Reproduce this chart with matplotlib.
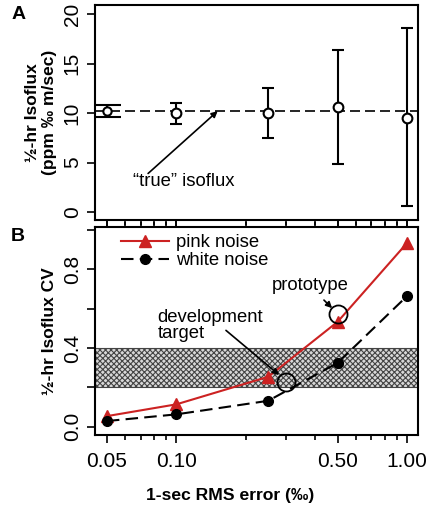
import matplotlib.pyplot as plt
from matplotlib.ticker import FixedLocator, NullFormatter, FuncFormatter

plt.rcParams['font.family'] = ['Liberation Sans', 'DejaVu Sans']
plt.rcParams['hatch.linewidth'] = 0.8

# data
rms_err = [0.05, 0.10, 0.25, 0.50, 1.00]
iso_mean = [10.2, 10.0, 10.0, 10.6, 9.55]
iso_lo = [9.6, 8.9, 7.5, 4.9, 0.65]
iso_hi = [10.8, 11.05, 12.55, 16.4, 18.55]
true_iso = 10.2

pink_cv = [0.054, 0.114, 0.254, 0.534, 0.935]
white_cv = [0.029, 0.063, 0.132, 0.325, 0.665]
target_band = (0.2, 0.4)
prototype = (0.5, 0.573)
dev_target = (0.3, 0.226)

fig = plt.figure(figsize=(4.28, 5.07), dpi=100)
axA = fig.add_axes([0.222, 0.566, 0.755, 0.424])
axB = fig.add_axes([0.222, 0.142, 0.755, 0.410])

xmin, xmax = 0.0444, 1.116
minor = [0.06, 0.07, 0.08, 0.09, 0.2, 0.3, 0.4, 0.6, 0.7, 0.8, 0.9]
arrow = dict(arrowstyle='-|>', color='black', lw=1.2, shrinkA=0, shrinkB=0,
             mutation_scale=9)

# ---- panel A
axA.axhline(true_iso, color='black', ls=(0, (6, 3)), lw=1.2, zorder=1)
err_lo = [m - l for m, l in zip(iso_mean, iso_lo)]
err_hi = [h - m for m, h in zip(iso_mean, iso_hi)]
axA.errorbar(rms_err[:1], iso_mean[:1], yerr=[err_lo[:1], err_hi[:1]], fmt='o',
             mfc='white', mec='black', mew=1.5, ms=6, ecolor='black', elinewidth=1.5,
             capsize=10, capthick=1.5, zorder=3)
axA.errorbar(rms_err[1:], iso_mean[1:], yerr=[err_lo[1:], err_hi[1:]], fmt='o',
             mfc='white', mec='black', mew=1.5, ms=7, ecolor='black', elinewidth=1.5,
             capsize=4, capthick=1.5, zorder=3)
axA.text(0.0649, 3.1, '\u201ctrue\u201d isoflux', fontsize=13.3, ha='left', va='center')
axA.annotate('', xy=(0.151, 10.2), xytext=(0.0754, 3.9), arrowprops=arrow)
axA.set_xscale('log')
axA.set_xlim(xmin, xmax)
axA.set_ylim(-0.8, 20.9)
axA.set_yticks([0, 5, 10, 15, 20])
axA.set_ylabel('\u00bd-hr Isoflux\n(ppm \u2030 m/sec)', fontsize=12.5, fontweight='bold',
               labelpad=4)
axA.text(-0.238, 0.955, 'A', transform=axA.transAxes, fontsize=14, fontweight='bold',
         va='center', ha='center')

# ---- panel B
axB.axhspan(target_band[0], target_band[1], facecolor='#d8d8d8', edgecolor='#444444',
            hatch='xxxxxx', lw=0.8, zorder=0)
axB.plot(rms_err, pink_cv, color='#cc2222', marker='^', ms=8, lw=1.5,
         label='pink noise', zorder=3)
axB.plot(rms_err, white_cv, color='black', marker='o', ms=7, lw=1.5,
         ls=(0, (6, 3)), label='white noise', zorder=3)
axB.plot(*prototype, 'o', ms=13, mfc='none', mec='black', mew=1.3, zorder=4)
axB.plot(*dev_target, 'o', ms=13, mfc='none', mec='black', mew=1.3, zorder=4)
axB.text(0.382, 0.72, 'prototype', fontsize=13.3, ha='center', va='center')
axB.annotate('', xy=(0.473, 0.603), xytext=(0.436, 0.644), arrowprops=arrow)
axB.text(0.083, 0.515, 'development\ntarget', fontsize=13.3, ha='left', va='center',
         linespacing=0.95)
axB.annotate('', xy=(0.279, 0.263), xytext=(0.164, 0.49), arrowprops=arrow)
axB.legend(loc='upper left', fontsize=13.3, frameon=False, handlelength=2.6,
           borderaxespad=0.2, labelspacing=0.05, handletextpad=0.4,
           bbox_to_anchor=(0.045, 1.02))
axB.set_xscale('log')
axB.set_xlim(xmin, xmax)
axB.set_ylim(-0.042, 1.015)
axB.set_yticks([0.0, 0.2, 0.4, 0.6, 0.8, 1.0])
axB.yaxis.set_major_formatter(FuncFormatter(lambda v, p: f'{v:.1f}' if round(v * 10) % 4 == 0 else ''))
axB.set_ylabel('\u00bd-hr Isoflux CV', fontsize=12.5, fontweight='bold', labelpad=4)
axB.set_xlabel('1-sec RMS error (\u2030)', fontsize=12.6, fontweight='bold', labelpad=12)
axB.xaxis.set_label_coords(0.418, -0.255)
axB.text(-0.238, 0.955, 'B', transform=axB.transAxes, fontsize=14, fontweight='bold',
         va='center', ha='center')

for ax in (axA, axB):
    ax.xaxis.set_major_locator(FixedLocator(rms_err[:2] + rms_err[3:]))
    ax.xaxis.set_minor_locator(FixedLocator(minor))
    ax.xaxis.set_minor_formatter(NullFormatter())
    ax.tick_params(axis='both', which='major', direction='out', length=6, width=1.2,
                   labelsize=15)
    ax.tick_params(axis='x', which='minor', direction='out', length=3.5, width=1.2)
    for s in ax.spines.values():
        s.set_linewidth(1.5)

axA.tick_params(axis='x', which='both', labelbottom=False)
axB.tick_params(axis='x', which='both', top=True)
axB.xaxis.set_major_formatter(FuncFormatter(lambda v, p: f'{v:.2f}'))
axB.tick_params(axis='x', pad=6)
for lab in axA.get_yticklabels() + axB.get_yticklabels():
    lab.set_rotation(90)
    lab.set_va('center')

fig.savefig('out.png', dpi=100)
